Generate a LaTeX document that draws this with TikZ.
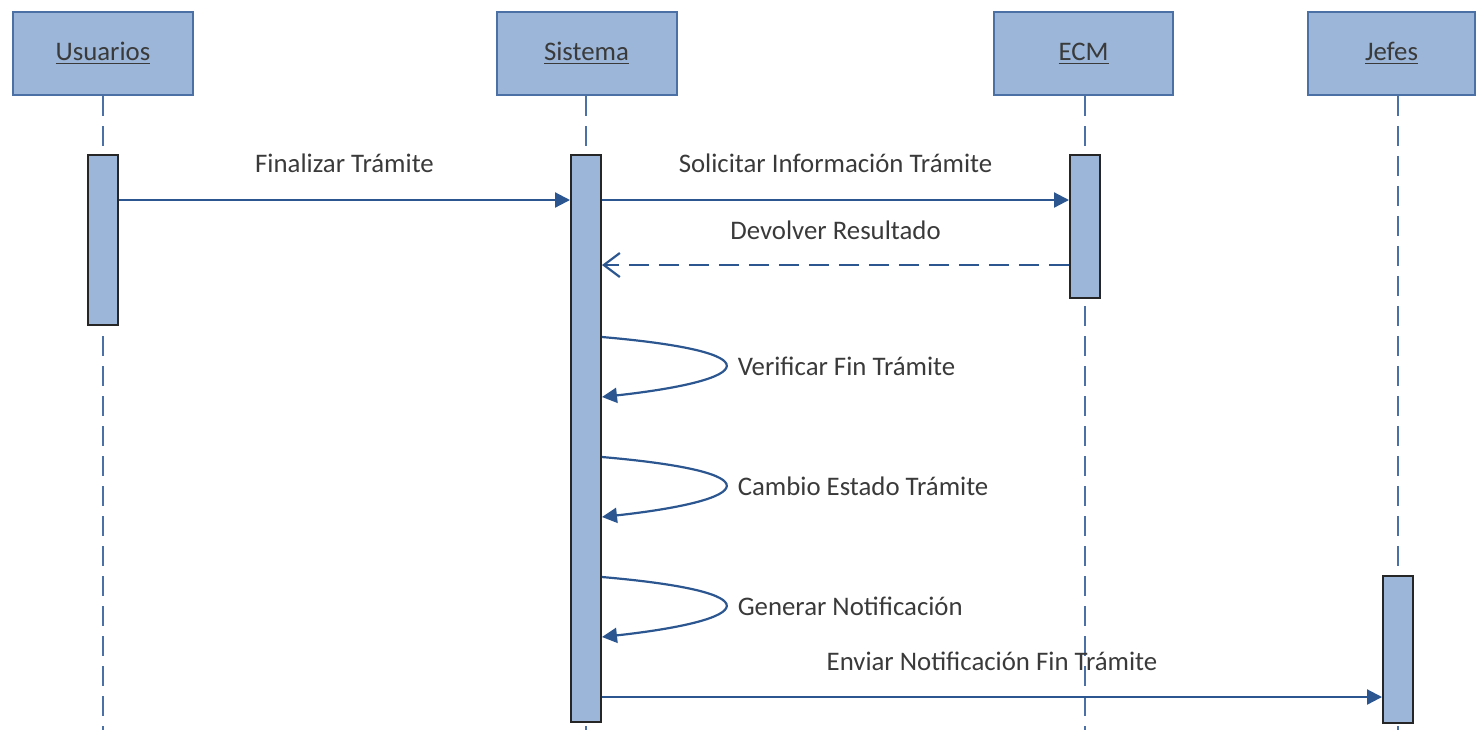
\documentclass[tikz,border=0pt]{standalone}
\usepackage{fontspec}
\setmainfont{Carlito}
\usetikzlibrary{arrows.meta, backgrounds}
\definecolor{boxfill}{HTML}{9BB6D8}
\definecolor{boxline}{HTML}{4A70A6}
\definecolor{msgline}{HTML}{2B5690}
\definecolor{labeltext}{HTML}{3A3A3A}
\tikzstyle{actor} = [rectangle, minimum width=90pt, minimum height=41.5pt, text centered, draw=boxline, line width=1pt, fill=boxfill, text=labeltext, font=\fontsize{13.4}{16}\selectfont]
\tikzstyle{activation} = [rectangle, minimum width=15pt, inner sep=0pt, draw=black!85, line width=1pt, fill=boxfill]
\tikzstyle{lifeline} = [draw=boxline, line width=1pt, dash pattern=on 10pt off 5pt]
\tikzstyle{edge} = [draw=msgline, line width=1.1pt, -{Triangle[length=7.5pt,width=7.5pt]}]
\tikzstyle{reply} = [draw=msgline, line width=1.1pt, dash pattern=on 10pt off 5pt, -{Straight Barb[length=8pt,width=12pt]}]
\tikzstyle{msg} = [text=labeltext, font=\fontsize{13.4}{16}\selectfont]
\begin{document}
\begin{tikzpicture}[x=0.5pt, y=-0.5pt]
\useasboundingbox (0,0) rectangle (1476,730);

\node (usr) [actor] at (103,53.5) {\underline{Usuarios}};
\node (sis) [actor] at (586.5,53.5) {\underline{Sistema}};
\node (ecm) [actor, minimum width=89.5pt] at (1083.5,53.5) {\underline{ECM}};
\node (jef) [actor, minimum width=83.5pt] at (1391.5,53.5) {\underline{Jefes}};

\node (usrAct) [activation, minimum height=85pt] at (103,240) {};
\node (sisAct) [activation, minimum height=283.5pt] at (586,438.5) {};
\node (ecmAct) [activation, minimum height=71.5pt] at (1085,226.5) {};
\node (jefAct) [activation, minimum height=73.5pt] at (1398,649.5) {};

\coordinate (end) at (0,730);
\begin{scope}[on background layer]
\draw [lifeline] (usrAct |- usr.south) -- (usrAct |- end);
\draw [lifeline] (sisAct |- sis.south) -- (sisAct |- end);
\draw [lifeline] (ecmAct |- ecm.south) -- (ecmAct |- end);
\draw [lifeline] (jefAct |- jef.south) -- (jefAct |- end);
\end{scope}

\coordinate (m1) at (0,200);
\coordinate (m2) at (0,265);
\coordinate (m3) at (0,697);

\draw [edge] (usrAct.east |- m1) -- node[msg, yshift=18.5pt]{Finalizar Trámite} (sisAct.west |- m1);
\draw [edge] (sisAct.east |- m1) -- node[msg, yshift=18.5pt]{Solicitar Información Trámite} (ecmAct.west |- m1);
\draw [reply] (ecmAct.west |- m2) -- node[msg, yshift=17.5pt]{Devolver Resultado} (sisAct.east |- m2);

% self calls
\foreach \y/\txt in {337/Verificar Fin Trámite, 457/Cambio Estado Trámite, 577/Generar Notificación} {
  \coordinate (a) at (0,\y);
  \coordinate (b) at (0,\y+60);
  \draw [edge] (sisAct.east |- a) .. controls +(174,15) and +(154,-17) .. (sisAct.east |- b) node[msg, pos=0.5, anchor=west, xshift=2.5pt]{\txt};
}

\draw [edge] (sisAct.east |- m3) -- node[msg, yshift=18pt]{Enviar Notificación Fin Trámite} (jefAct.west |- m3);

\end{tikzpicture}
\end{document}
